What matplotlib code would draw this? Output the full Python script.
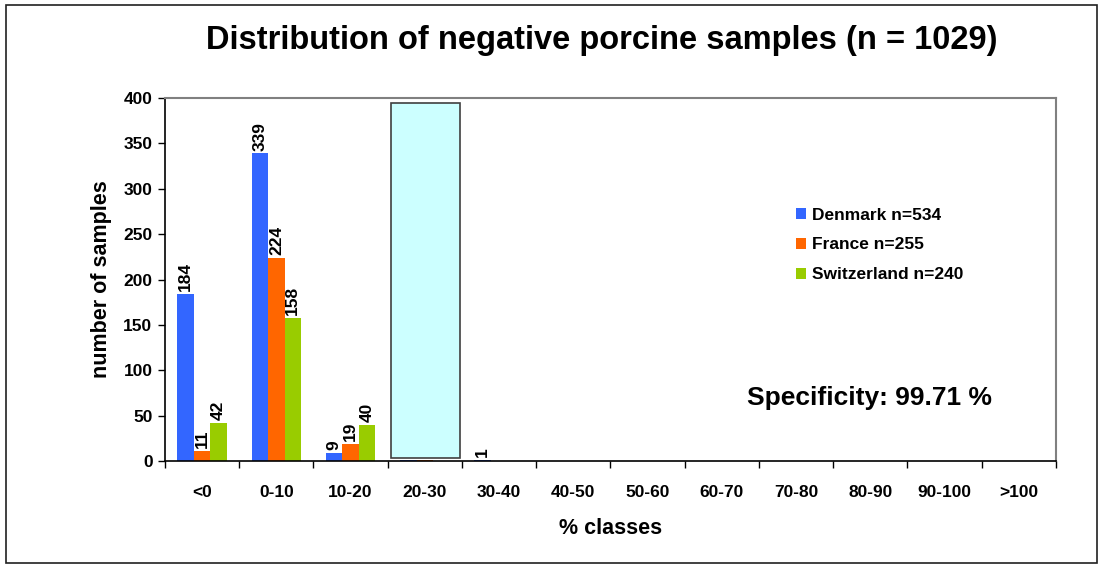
import numpy as np
import matplotlib.pyplot as plt
from matplotlib.patches import Rectangle

plt.rcParams['font.family'] = ['Liberation Sans', 'DejaVu Sans']
plt.rcParams['font.weight'] = 'bold'

# ==================== DATA ====================
classes = ['<0', '0-10', '10-20', '20-30', '30-40', '40-50', '50-60',
           '60-70', '70-80', '80-90', '90-100', '>100']
denmark = [184, 339, 9, 1, 1, 0, 0, 0, 0, 0, 0, 0]
france = [11, 224, 19, 1, 0, 0, 0, 0, 0, 0, 0, 0]
switzerland = [42, 158, 40, 0, 0, 0, 0, 0, 0, 0, 0, 0]
series_names = ['Denmark n=534', 'France n=255', 'Switzerland n=240']
colors = ['#3366FF', '#FF6600', '#99CC00']

# ==================== FIGURE ====================
fig = plt.figure(figsize=(11.02, 5.68), dpi=100)
fig.patches.append(Rectangle((6 / 1102, 1 - 563 / 568), 1091 / 1102, 558 / 568,
                             transform=fig.transFigure, fill=False,
                             edgecolor='#202020', linewidth=1.2))

ax = fig.add_axes([165 / 1102, 1 - 461 / 568, 891 / 1102, 363 / 568])

x = np.arange(len(classes))
w = 1 / 4.5
for i, (vals, name, c) in enumerate(zip([denmark, france, switzerland], series_names, colors)):
    pos = x + (i - 1) * w
    ax.bar(pos, vals, width=w, color=c, label=name, zorder=2)
    for p, v in zip(pos, vals):
        if v > 0:
            ax.text(p, v + 3, str(v), rotation=90, ha='center', va='bottom',
                    fontsize=12.5, fontweight='bold', zorder=2)

# highlighted 20-30 class box
ax.add_patch(Rectangle((2.54, 3), 0.93, 391, facecolor='#CCFFFF',
                       edgecolor='#404040', linewidth=1.2, zorder=3))

ax.set_xlim(-0.5, len(classes) - 0.5)
ax.set_ylim(0, 400)
ax.set_yticks(np.arange(0, 401, 50))
ax.set_xticks(x)
ax.set_xticklabels(classes)
ax.set_xticks(np.arange(-0.5, len(classes)), minor=True)
ax.tick_params(axis='x', which='major', length=0, pad=17, labelsize=12.5)
ax.tick_params(axis='x', which='minor', length=5, direction='out', width=1)
ax.tick_params(axis='y', length=5, direction='out', width=1, labelsize=12.5, pad=4)
for lab in ax.get_xticklabels() + ax.get_yticklabels():
    lab.set_fontweight('bold')

for s in ['top', 'right']:
    ax.spines[s].set_color('#808080')
    ax.spines[s].set_linewidth(1.5)
for s in ['left', 'bottom']:
    ax.spines[s].set_color('black')
    ax.spines[s].set_linewidth(1.2)

ax.set_xlabel('% classes', fontsize=15.5, fontweight='bold', labelpad=13)
ax.set_ylabel('number of samples', fontsize=15.5, fontweight='bold', labelpad=8)

fig.text(602 / 1102, 1 - 41 / 568, 'Distribution of negative porcine samples (n = 1029)',
         ha='center', va='center', fontsize=23.5, fontweight='bold')

fig.text(747 / 1102, 1 - 398 / 568, 'Specificity: 99.71 %', ha='left', va='center',
         fontsize=19, fontweight='bold')

leg = ax.legend(loc='upper left', bbox_to_anchor=((780 - 165) / 891, (461 - 192) / 363),
                frameon=False, fontsize=12.5, handlelength=0.6, handleheight=0.6,
                handletextpad=0.35, labelspacing=0.85)
for t in leg.get_texts():
    t.set_fontweight('bold')

fig.savefig('out.png', dpi=100)
